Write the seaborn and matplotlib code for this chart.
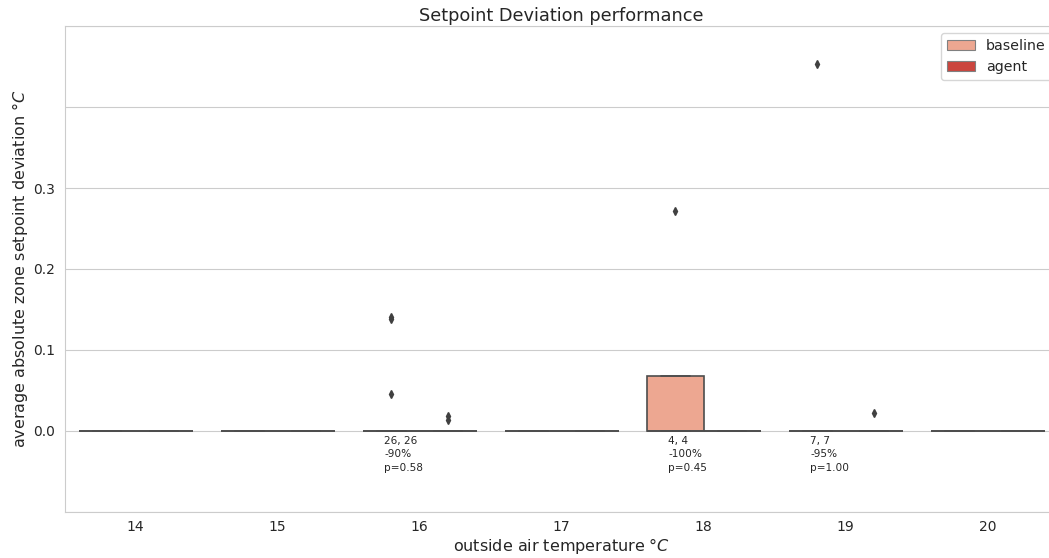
import numpy as np
import pandas as pd
import matplotlib
matplotlib.use("Agg")
import matplotlib.pyplot as plt
import seaborn as sns

temps = [14, 15, 16, 17, 18, 19, 20]

baseline_14 = [0.0, 0.0, 0.0, 0.0, 0.0]
agent_14 = [0.0, 0.0, 0.0, 0.0, 0.0]
baseline_15 = [0.0, 0.0, 0.0, 0.0, 0.0]
agent_15 = [0.0, 0.0, 0.0, 0.0, 0.0]
baseline_16 = [0.141, 0.138, 0.045, 0.0, 0.0, 0.0, 0.0, 0.0, 0.0, 0.0,
               0.0, 0.0, 0.0, 0.0, 0.0, 0.0, 0.0, 0.0, 0.0, 0.0,
               0.0, 0.0, 0.0, 0.0, 0.0, 0.0]
agent_16 = [0.0185, 0.0135, 0.0, 0.0, 0.0, 0.0, 0.0, 0.0, 0.0, 0.0,
            0.0, 0.0, 0.0, 0.0, 0.0, 0.0, 0.0, 0.0, 0.0, 0.0,
            0.0, 0.0, 0.0, 0.0, 0.0, 0.0]
baseline_17 = [0.0, 0.0, 0.0, 0.0, 0.0]
agent_17 = [0.0, 0.0, 0.0, 0.0, 0.0]
baseline_18 = [0.0, 0.0, 0.0, 0.272]
agent_18 = [0.0, 0.0, 0.0, 0.0]
baseline_19 = [0.454, 0.0, 0.0, 0.0, 0.0, 0.0, 0.0]
agent_19 = [0.022, 0.0, 0.0, 0.0, 0.0, 0.0, 0.0]
baseline_20 = [0.0, 0.0, 0.0, 0.0, 0.0]
agent_20 = [0.0, 0.0, 0.0, 0.0, 0.0]

baseline_vals = [baseline_14, baseline_15, baseline_16, baseline_17, baseline_18, baseline_19, baseline_20]
agent_vals = [agent_14, agent_15, agent_16, agent_17, agent_18, agent_19, agent_20]

annot_temps = [16, 18, 19]
annot_texts = ["26, 26\n-90%\np=0.58", "4, 4\n-100%\np=0.45", "7, 7\n-95%\np=1.00"]

ytick_vals = [-0.1, 0.0, 0.1, 0.2, 0.3, 0.4, 0.5]
ytick_labels = ["", "0.0", "0.1", "0.2", "0.3", "", ""]

rows = []
for t, bv, av in zip(temps, baseline_vals, agent_vals):
    for v in bv:
        rows.append({"temp": t, "value": v, "policy": "baseline"})
    for v in av:
        rows.append({"temp": t, "value": v, "policy": "agent"})
df = pd.DataFrame(rows)

sns.set_style("whitegrid")
plt.rcParams['font.family'] = ['DejaVu Sans']

fig = plt.figure(figsize=(10.49, 5.58), dpi=100)
ax = fig.add_axes([64.7 / 1049, 1 - 511.7 / 558, (1058.7 - 64.7) / 1049, (511.7 - 26.3) / 558])

sns.boxplot(data=df, x="temp", y="value", hue="policy", order=temps,
            hue_order=["baseline", "agent"], palette="Reds", width=0.8,
            saturation=0.75, linecolor="0.3", linewidth=1.2,
            flierprops=dict(marker="d", markersize=4, markerfacecolor="0.25",
                            markeredgecolor="0.25"),
            ax=ax)

for t, txt in zip(annot_temps, annot_texts):
    i = temps.index(t)
    ax.text(i - 0.25, -0.006, txt, ha="left", va="top", fontsize=7.6,
            linespacing=1.45, color="0.15")

ax.set_ylim(-0.1, 0.5)
ax.set_xlim(-0.5, 6.5)
ax.set_yticks(ytick_vals)
ax.set_yticklabels(ytick_labels)
ax.tick_params(labelsize=10, colors="0.15")
ax.tick_params(axis="x", pad=2.5)
ax.set_xlabel("outside air temperature °$C$", fontsize=11.5, color="0.15", labelpad=1.5)
ax.set_ylabel("average absolute zone setpoint deviation °$C$", fontsize=11.5,
              color="0.15", labelpad=2.5)
ax.set_title("Setpoint Deviation performance", fontsize=12.8, color="0.15", pad=4)
leg = ax.legend(loc="upper right", fontsize=10.2, title=None)
for h in leg.legend_handles:
    h.set_edgecolor("0.5")
    h.set_linewidth(0.8)
for s in ax.spines.values():
    s.set_visible(True)
    s.set_color("0.8")

fig.savefig("out.png", dpi=100)
